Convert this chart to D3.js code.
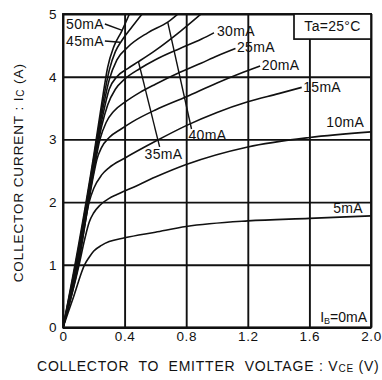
<!DOCTYPE html>
<html>
<head>
<meta charset="utf-8">
<script src="https://cdn.jsdelivr.net/npm/d3@7"></script>
<style>
  body { margin: 0; background: #fff; }
  svg { display: block; }
</style>
</head>
<body>
<script>
window.onload = function(){

// base current of each curve (mA)
let baseCurrents = [0, 5, 10, 15, 20, 25, 30, 35, 40, 45, 50];

// VCE (V), IC (A)
let curve0 = [[0,0],[2.0,0]];
let curve5 = [[0,0],[0.07,0.5],[0.14,1.0],[0.17,1.12],[0.2,1.22],[0.25,1.31],[0.3,1.37],[0.4,1.43],[0.6,1.52],[0.8,1.61],[1.2,1.70],[1.6,1.74],[2.0,1.78]];
let curve10 = [[0,0],[0.1,0.95],[0.14,1.4],[0.17,1.68],[0.2,1.83],[0.24,1.95],[0.3,2.06],[0.35,2.12],[0.45,2.23],[0.6,2.4],[0.8,2.6],[1.2,2.88],[1.6,3.03],[2.0,3.12]];
let curve15 = [[0,0],[0.1,1.0],[0.17,2.0],[0.2,2.22],[0.25,2.43],[0.3,2.55],[0.4,2.7],[0.6,2.97],[0.8,3.22],[1.0,3.43],[1.2,3.6],[1.4,3.73],[1.55,3.83]];
let curve20 = [[0,0],[0.1,1.05],[0.2,2.45],[0.22,2.68],[0.25,2.87],[0.3,3.03],[0.38,3.17],[0.45,3.28],[0.6,3.47],[0.8,3.68],[1.0,3.9],[1.15,4.05],[1.28,4.17]];
let curve25 = [[0,0],[0.1,1.1],[0.2,2.5],[0.24,3.0],[0.28,3.27],[0.33,3.45],[0.4,3.59],[0.5,3.75],[0.6,3.88],[0.76,4.07],[0.9,4.22],[1.0,4.33],[1.12,4.45]];
let curve30 = [[0,0],[0.1,1.1],[0.2,2.55],[0.25,3.2],[0.29,3.55],[0.34,3.8],[0.4,3.96],[0.5,4.13],[0.6,4.27],[0.76,4.45],[0.9,4.6],[0.98,4.7]];
let curve35 = [[0,0],[0.1,1.15],[0.2,2.6],[0.26,3.4],[0.3,3.8],[0.35,4.0],[0.42,4.13],[0.49,4.24],[0.6,4.42],[0.76,4.72],[0.92,5.05]];
let curve40 = [[0,0],[0.1,1.2],[0.2,2.65],[0.26,3.5],[0.3,3.95],[0.35,4.27],[0.42,4.47],[0.55,4.7],[0.68,4.87],[0.77,5.05]];
let curve45 = [[0,0],[0.1,1.25],[0.2,2.7],[0.26,3.6],[0.3,4.1],[0.34,4.4],[0.38,4.57],[0.45,4.8],[0.53,5.05]];
let curve50 = [[0,0],[0.1,1.3],[0.2,2.75],[0.25,3.55],[0.29,4.15],[0.33,4.48],[0.38,4.72],[0.44,5.05]];

let curves = [curve0, curve5, curve10, curve15, curve20, curve25, curve30, curve35, curve40, curve45, curve50];

let xTicks = [0, 0.4, 0.8, 1.2, 1.6, 2.0];
let yTicks = [0, 1, 2, 3, 4, 5];

let width = 382,
	height = 380;

let margin = {left: 63, right: 11, top: 14, bottom: 52.5};

let svg = d3.select("body")
			.append("svg")
			.attr("width", width)
			.attr("height", height)
			.attr("font-family", "'Liberation Sans', Arial, sans-serif");

let x = d3.scaleLinear().domain([0, 2]).range([margin.left, width - margin.right]);
let y = d3.scaleLinear().domain([0, 5]).range([height - margin.bottom, margin.top]);

let ink = "#111";

// grid + ticks
let xAxis = d3.axisBottom(x)
	.tickValues(xTicks)
	.tickSize(-(y(0) - y(5)))
	.tickPadding(4)
	.tickFormat(function(d){ return d === 0 ? "0" : d3.format(".1f")(d); });

let yAxis = d3.axisLeft(y)
	.tickValues(yTicks)
	.tickSize(-(x(2) - x(0)))
	.tickPadding(6)
	.tickFormat(d3.format("d"));

let gx = svg.append("g")
	.attr("transform", "translate(0," + y(0) + ")")
	.call(xAxis);

let gy = svg.append("g")
	.attr("transform", "translate(" + x(0) + ",0)")
	.call(yAxis);

[gx, gy].forEach(function(g){
	g.select(".domain").remove();
	g.selectAll(".tick line").attr("stroke", ink).attr("stroke-width", 1.9);
	g.selectAll(".tick text").attr("fill", ink).attr("font-size", 13.5).attr("letter-spacing", 0.6);
});

svg.append("rect")
	.attr("x", x(0)).attr("y", y(5))
	.attr("width", x(2) - x(0)).attr("height", y(0) - y(5))
	.attr("fill", "none").attr("stroke", ink).attr("stroke-width", 1.9);

// curves
svg.append("clipPath").attr("id", "plot-clip")
	.append("rect")
	.attr("x", x(0)).attr("y", y(5))
	.attr("width", x(2) - x(0)).attr("height", y(0) - y(5));

let line = d3.line()
	.x(function(d){ return x(d[0]); })
	.y(function(d){ return y(d[1]); })
	.curve(d3.curveMonotoneX);

svg.append("g")
	.attr("clip-path", "url(#plot-clip)")
	.selectAll("path")
	.data(curves)
	.enter().append("path")
	.attr("d", line)
	.attr("fill", "none")
	.attr("stroke", ink)
	.attr("stroke-width", 1.6);

// curve labels: [base mA, label x (V), label y (A), leader to (V,A) or null]
let labels = [
	[50, 0.02, 4.84, [0.385, 4.74]],
	[45, 0.02, 4.57, [0.37, 4.55]],
	[30, 1.0, 4.72, null],
	[25, 1.13, 4.47, null],
	[20, 1.29, 4.19, null],
	[15, 1.56, 3.84, null],
	[10, 1.71, 3.27, null],
	[5, 1.755, 1.9, null],
	[40, 0.815, 3.07, [0.68, 4.87]],
	[35, 0.53, 2.77, [0.49, 4.24]]
];

let lab = svg.append("g").attr("font-size", 14).attr("fill", ink);

labels.forEach(function(l){
	let tx = x(l[1]), ty = y(l[2]);
	let t = lab.append("text")
		.attr("x", tx).attr("y", ty)
		.attr("dy", "0.35em")
		.attr("letter-spacing", 0.3)
		.text(l[0] + "mA");
	if (l[3]) {
		let w = t.node().getComputedTextLength();
		let fromX, fromY;
		if (l[0] >= 45) { fromX = tx + w + 1; fromY = ty; }
		else if (l[0] === 40) { fromX = tx + 3; fromY = ty - 6; }
		else { fromX = tx + 15; fromY = ty - 7; }
		lab.append("line")
			.attr("x1", fromX).attr("y1", fromY)
			.attr("x2", x(l[3][0])).attr("y2", y(l[3][1]))
			.attr("stroke", ink).attr("stroke-width", 1.4);
	}
});

// IB = 0mA
let ib = lab.append("text")
	.attr("x", x(2) - 4).attr("y", y(0.09))
	.attr("text-anchor", "end");
ib.append("tspan").text("I");
ib.append("tspan").attr("font-size", 9).attr("dy", 2).text("B");
ib.append("tspan").attr("dy", -2).text("=0mA");

// Ta box
svg.append("rect")
	.attr("x", x(1.5)).attr("y", y(5))
	.attr("width", x(2) - x(1.5)).attr("height", y(4.6) - y(5))
	.attr("fill", "#fff").attr("stroke", ink).attr("stroke-width", 1.7);

svg.append("text")
	.attr("x", (x(1.5) + x(2)) / 2).attr("y", y(4.8))
	.attr("dy", "0.35em")
	.attr("text-anchor", "middle")
	.attr("font-size", 14)
	.attr("letter-spacing", 0.3)
	.attr("fill", ink)
	.text("Ta=25°C");

// axis titles
let xt = svg.append("text")
	.attr("x", 37).attr("y", 371)
	.attr("font-size", 14)
	.attr("fill", ink)
	.attr("letter-spacing", 0.78)
	.attr("xml:space", "preserve");
xt.append("tspan").text("COLLECTOR  TO  EMITTER  VOLTAGE : V");
xt.append("tspan").attr("font-size", 10).attr("dy", 1).text("CE");
xt.append("tspan").attr("dy", -1).text(" (V)");

let yt = svg.append("text")
	.attr("transform", "translate(23," + ((y(0) + y(5)) / 2 + 2) + ") rotate(-90)")
	.attr("text-anchor", "middle")
	.attr("font-size", 13.5)
	.attr("fill", ink)
	.attr("letter-spacing", 0.9);
yt.append("tspan").text("COLLECTOR CURRENT : I");
yt.append("tspan").attr("font-size", 10).attr("dy", 1).text("C");
yt.append("tspan").attr("dy", -1).text(" (A)");

}
</script>
</body>
</html>
